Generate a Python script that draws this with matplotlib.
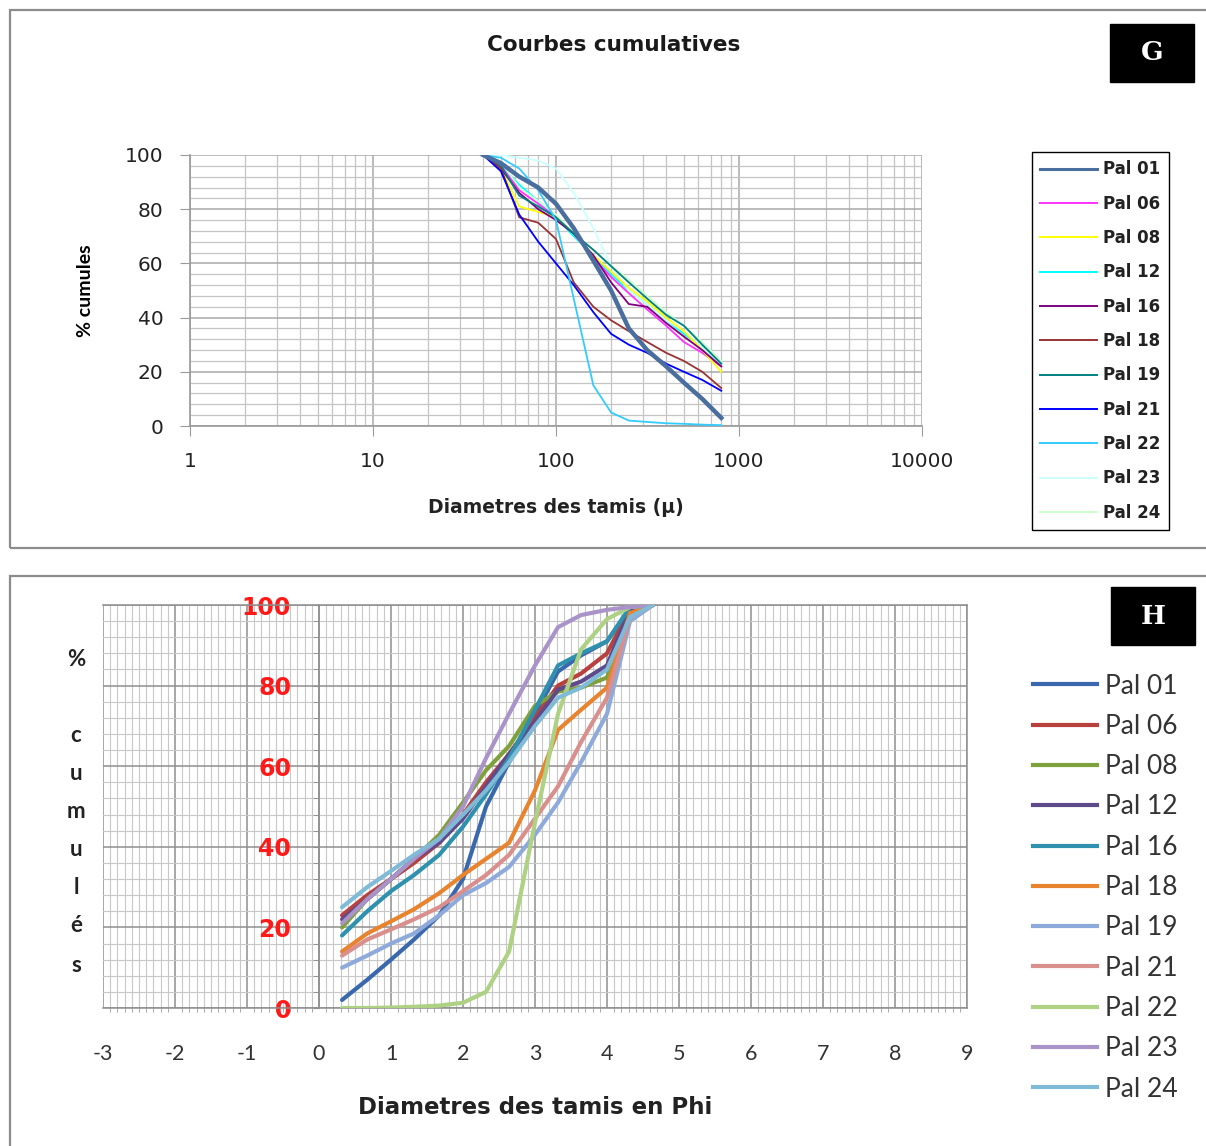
# Courbes cumulatives : tamis en microns (G) et en unites Phi (H)

import matplotlib
matplotlib.use("Agg")
import matplotlib.pyplot as plt
from matplotlib.patches import Rectangle
from matplotlib.ticker import MultipleLocator, LogLocator, NullFormatter, FixedLocator, FixedFormatter

plt.rcParams["axes.unicode_minus"] = False

W, H = 1206, 1146

labels = ["Pal 01", "Pal 06", "Pal 08", "Pal 12", "Pal 16", "Pal 18",
          "Pal 19", "Pal 21", "Pal 22", "Pal 23", "Pal 24"]

# --- graphique G : % cumules vs diametre des tamis (microns) ---
sieve_um = [40, 50, 63, 80, 100, 125, 160, 200, 250, 315, 400, 500, 630, 800]
g_pal01 = [100, 97, 92, 88, 82, 73, 61, 50, 36, 28, 22, 16, 10, 3]
g_pal06 = [100, 96, 87, 82, 77, 71, 62, 55, 49, 43, 37, 31, 27, 22]
g_pal08 = [100, 95, 81, 79, 77, 71, 63, 57, 51, 46, 40, 35, 28, 20]
g_pal12 = [100, 96, 89, 83, 77, 70, 63, 56, 50, 45, 39, 34, 29, 23]
g_pal16 = [100, 95, 86, 80, 76, 71, 63, 53, 45, 44, 38, 33, 28, 22]
g_pal18 = [100, 95, 77, 75, 69, 53, 44, 39, 35, 31, 27, 24, 20, 14]
g_pal19 = [100, 96, 85, 81, 77, 71, 65, 59, 53, 47, 41, 37, 30, 23]
g_pal21 = [100, 94, 78, 68, 60, 52, 42, 34, 30, 27, 23, 20, 17, 13]
g_pal22 = [100, 99, 95, 87, 76, 47, 15, 5, 2, 1.5, 1, 0.8, 0.5, 0.3]
g_pal23 = [100, 100, 99, 98, 95, 86, 73, 59, 50, 45, 39, 35, 29, 23]
g_pal24 = [100, 97, 88, 83, 78, 71, 65, 59, 54, 48, 42, 37, 31, 24]
g_series = [g_pal01, g_pal06, g_pal08, g_pal12, g_pal16, g_pal18,
            g_pal19, g_pal21, g_pal22, g_pal23, g_pal24]
g_colors = ["#4a6f9e", "#ff33ff", "#ffff00", "#00ffff", "#800080", "#993333",
            "#008080", "#0000ff", "#33ccff", "#ccffff", "#ccffcc"]
g_widths = [3.2, 1.3, 1.3, 1.3, 1.3, 1.3, 1.3, 1.3, 1.3, 1.3, 1.3]
g_order = [3, 9, 10, 1, 2, 4, 6, 5, 7, 8, 0]

# --- graphique H : % cumules vs diametre en Phi ---
phi = [0.32, 0.67, 1.0, 1.32, 1.67, 2.0, 2.32, 2.64, 3.0, 3.32, 3.64, 4.0, 4.32, 4.64]
h_pal01 = [2, 7, 12, 17, 23, 32, 50, 61, 73, 83.5, 87.5, 91, 99, 100]
h_pal06 = [23, 28, 32, 36, 41, 48, 56, 63, 72, 80, 83, 88, 99, 100]
h_pal08 = [20, 27, 32, 37, 43, 51, 59, 65, 75, 78.5, 79.5, 82, 99, 100]
h_pal12 = [22, 27, 32, 37, 41, 47, 55, 63, 71, 79, 81, 85, 99, 100]
h_pal16 = [18, 24, 29, 33, 38, 45, 53, 62, 74, 85, 88, 91, 99.5, 100]
h_pal18 = [14, 18.5, 21.5, 24.5, 28.5, 33, 37, 41, 54, 69, 74, 79.5, 98, 100]
h_pal19 = [10, 13, 16, 18.5, 23, 28, 31, 35, 43, 51, 61, 73, 96, 100]
h_pal21 = [13, 17, 19.5, 22, 25, 29, 33, 38, 47, 55, 66, 77, 97, 100]
h_pal22 = [0, 0, 0.1, 0.3, 0.6, 1.3, 4, 14, 46, 73, 89, 96.5, 99.5, 100]
h_pal23 = [21, 27, 32, 37, 42, 50, 62, 73, 85, 94.5, 97.5, 98.8, 99.5, 100]
h_pal24 = [25, 30, 34, 38, 42, 48, 54, 61, 70, 77, 79.5, 84, 97, 100]
h_series = [h_pal01, h_pal06, h_pal08, h_pal12, h_pal16, h_pal18,
            h_pal19, h_pal21, h_pal22, h_pal23, h_pal24]
h_colors = ["#3a68ad", "#b8413e", "#7ea13c", "#5f4a8c", "#2f91ad", "#e8832e",
            "#8eaada", "#d98f8c", "#aed184", "#a993c9", "#7fbad6"]

ytick_vals = [0, 20, 40, 60, 80, 100]
g_xticks = [1, 10, 100, 1000, 10000]
h_xticks = [-3, -2, -1, 0, 1, 2, 3, 4, 5, 6, 7, 8, 9]
h_ylabel_letters = ["%", "c", "u", "m", "u", "l", "é", "s"]

CAL = ["Lato", "DejaVu Sans"]


def px_box(l, t, r, b):
    return [l / W, 1 - b / H, (r - l) / W, (b - t) / H]


fig = plt.figure(figsize=(W / 100, H / 100), dpi=100)

# cadres des deux panneaux
for (l, t, r, b) in [(10, 10, 1230, 548), (10, 576, 1230, 1170)]:
    fig.patches.append(Rectangle((l / W, 1 - b / H), (r - l) / W, (b - t) / H,
                                 transform=fig.transFigure, fill=False,
                                 edgecolor="#8c8c8c", lw=1.6))

# etiquettes G / H
for letter, (l, t, r, b) in [("G", (1110, 24, 1194, 82)), ("H", (1111, 587, 1195, 645))]:
    fig.patches.append(Rectangle((l / W, 1 - b / H), (r - l) / W, (b - t) / H,
                                 transform=fig.transFigure, facecolor="black",
                                 edgecolor="black"))
    fig.text((l + r) / 2 / W, 1 - (t + b) / 2 / H, letter, color="white",
             fontsize=19, fontweight="bold", family="DejaVu Serif",
             ha="center", va="center")

# ---------------- G ----------------
ax1 = fig.add_axes(px_box(190, 155, 922, 426))
for i in g_order:
    ax1.plot(sieve_um, g_series[i], color=g_colors[i], lw=g_widths[i], zorder=3)
ax1.set_xscale("log")
ax1.set_xlim(1, 10000)
ax1.set_ylim(0, 100)
ax1.xaxis.set_major_locator(FixedLocator(g_xticks))
ax1.xaxis.set_major_formatter(FixedFormatter([str(v) for v in g_xticks]))
ax1.xaxis.set_minor_locator(LogLocator(base=10, subs=range(2, 10)))
ax1.xaxis.set_minor_formatter(NullFormatter())
ax1.yaxis.set_major_locator(FixedLocator(ytick_vals))
ax1.yaxis.set_minor_locator(MultipleLocator(4))
ax1.grid(which="major", color="#a8a8a8", lw=1.1)
ax1.grid(which="minor", color="#c4c4c4", lw=0.9)
ax1.set_axisbelow(True)
for s in ["top", "right"]:
    ax1.spines[s].set_visible(False)
for s in ["left", "bottom"]:
    ax1.spines[s].set_color("#9a9a9a")
    ax1.spines[s].set_linewidth(1.2)
ax1.tick_params(which="major", length=7, color="#9a9a9a", labelsize=14.5,
                labelcolor="#222222")
ax1.tick_params(axis="x", which="major", pad=12)
ax1.tick_params(axis="y", which="major", pad=12)
ax1.tick_params(which="minor", length=0)
fig.text(614 / W, 1 - 45 / H, "Courbes cumulatives", family="DejaVu Sans",
         fontsize=15.5, fontweight="bold", ha="center", va="center",
         color="#1a1a1a")
ax1.set_xlabel("Diametres des tamis (µ)", family="DejaVu Sans", fontsize=13.5,
               fontweight="bold", labelpad=19, color="#222222")
ax1.set_ylabel("% cumules", family=CAL, fontsize=14, fontweight="bold",
               labelpad=22)

g_handles = [plt.Line2D([], [], color=g_colors[i], lw=2.2 if i == 0 else 1.4)
             for i in range(len(labels))]
leg1 = fig.legend(g_handles, labels, loc="upper left",
                  bbox_to_anchor=(1032 / W, 1 - 152 / H), frameon=True,
                  fancybox=False, edgecolor="black", framealpha=1,
                  prop={"family": "DejaVu Sans", "weight": "bold", "size": 12},
                  handlelength=3.4, handletextpad=0.35, labelspacing=0.98,
                  borderpad=0.5, borderaxespad=0)
leg1.get_frame().set_linewidth(1.0)
for t in leg1.get_texts():
    t.set_color("#222222")

# ---------------- H ----------------
ax2 = fig.add_axes(px_box(103, 605, 967, 1008))
for i in range(len(labels)):
    ax2.plot(phi, h_series[i], color=h_colors[i], lw=3.0, zorder=3,
             solid_capstyle="round")
ax2.set_xlim(-3, 9)
ax2.set_ylim(0, 100)
ax2.xaxis.set_major_locator(FixedLocator(h_xticks))
ax2.xaxis.set_minor_locator(MultipleLocator(0.1))
ax2.yaxis.set_major_locator(FixedLocator(ytick_vals))
ax2.yaxis.set_minor_locator(MultipleLocator(4))
ax2.grid(which="major", color="#8e8e8e", lw=1.1)
ax2.grid(which="minor", color="#c8c8c8", lw=0.8)
ax2.set_axisbelow(True)
ax2.spines["left"].set_position(("data", 0))
for s in ax2.spines.values():
    s.set_color("#8e8e8e")
    s.set_linewidth(1.1)
ax2.tick_params(axis="y", which="both", length=4, color="#8e8e8e",
                labelsize=17, labelcolor="#ff1a1a", pad=16)
for t in ax2.get_yticklabels():
    t.set_fontweight("bold")
ax2.tick_params(axis="x", which="major", length=0, labelsize=15.5,
                labelcolor="#333333", pad=26)
ax2.tick_params(axis="x", which="minor", length=3, color="#9a9a9a")
for t in ax2.get_xticklabels():
    t.set_family(CAL)
ax2.set_xlabel("Diametres des tamis en Phi", family="DejaVu Sans", fontsize=16.5,
               fontweight="bold", labelpad=23, color="#222222")

letter_y = [660, 735, 773, 812, 850, 888, 926, 965]
for ch, yy in zip(h_ylabel_letters, letter_y):
    fig.text(76 / W, 1 - yy / H, ch, family=CAL, fontsize=16, fontweight="bold",
             ha="center", va="center", color="#222222")

h_handles = [plt.Line2D([], [], color=h_colors[i], lw=3.0) for i in range(len(labels))]
leg2 = fig.legend(h_handles, labels, loc="upper left",
                  bbox_to_anchor=(1022 / W, 1 - 663 / H), frameon=False,
                  prop={"family": CAL, "size": 19},
                  handlelength=2.45, handletextpad=0.3, labelspacing=0.58,
                  borderaxespad=0)
for t in leg2.get_texts():
    t.set_color("#333333")

fig.savefig("out.png", dpi=100, facecolor="white")
